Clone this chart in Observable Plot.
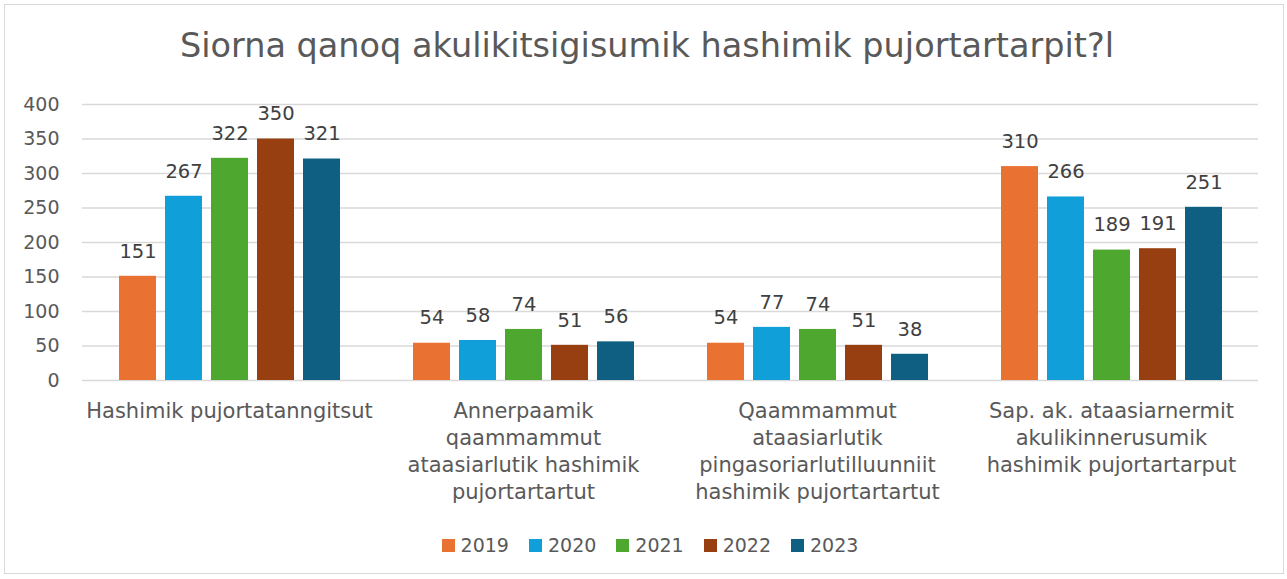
<!DOCTYPE html>
<html>
<head>
<meta charset="utf-8">
<script src="https://cdn.jsdelivr.net/npm/d3@7"></script>
<script src="https://cdn.jsdelivr.net/npm/@observablehq/plot@0.6"></script>
<style>
  html, body { margin: 0; padding: 0; background: #fff; }
  #chart { position: relative; width: 1287px; height: 579px; font-family: "DejaVu Sans", sans-serif; overflow: hidden; }
  #frame { position: absolute; left: 4px; top: 4px; width: 1280px; height: 570px; border: 1px solid #d9d9d9; box-sizing: border-box; }
  #title { position: absolute; left: 0; width: 1294px; top: 28px; text-align: center; font-size: 33.5px; line-height: 36px; color: #595959; white-space: nowrap; }
  #plot { position: absolute; left: 0; top: 90px; }
  #legend { position: absolute; left: 0; width: 1300px; top: 534px; display: flex; justify-content: center; align-items: center; font-size: 19px; color: #595959; }
  .item { display: flex; align-items: center; margin: 0 10px; }
  .sw { width: 13px; height: 13px; margin-right: 6px; }
</style>
</head>
<body>
<div id="chart">
  <div id="frame"></div>
  <div id="title"></div>
  <div id="plot"></div>
  <div id="legend"></div>
</div>
<script>
const titleText = "Siorna qanoq akulikitsigisumik hashimik pujortartarpit?l";
const categories = [
  "Hashimik pujortatanngitsut",
  "Annerpaamik\nqaammammut\nataasiarlutik hashimik\npujortartartut",
  "Qaammammut\nataasiarlutik\npingasoriarlutilluunniit\nhashimik pujortartartut",
  "Sap. ak. ataasiarnermit\nakulikinnerusumik\nhashimik pujortartarput"
];
const years = ["2019", "2020", "2021", "2022", "2023"];
const v2019 = [151, 54, 54, 310];
const v2020 = [267, 58, 77, 266];
const v2021 = [322, 74, 74, 189];
const v2022 = [350, 51, 51, 191];
const v2023 = [321, 56, 38, 251];
const colors = ["#E97132", "#119FD9", "#4EA72E", "#973F10", "#0E5F82"];
const yTicks = [0, 50, 100, 150, 200, 250, 300, 350, 400];

const series = [v2019, v2020, v2021, v2022, v2023];
const data = categories.flatMap((c, i) => years.map((y, j) => ({category: c, year: y, value: series[j][i]})));

document.getElementById("title").textContent = titleText;

const chart = Plot.plot({
  width: 1287,
  height: 430,
  marginLeft: 82,
  marginRight: 29,
  marginTop: 14,
  marginBottom: 140,
  style: {fontFamily: "'DejaVu Sans', sans-serif", background: "transparent"},
  fx: {domain: categories, padding: 0, label: null},
  x: {domain: years, paddingInner: 0.2, paddingOuter: 0.767, axis: null},
  y: {domain: [0, 400], label: null},
  color: {domain: years, range: colors},
  marks: [
    Plot.gridY(yTicks, {stroke: "#d9d9d9", strokeOpacity: 1, strokeWidth: 1.3}),
    Plot.barY(data, {fx: "category", x: "year", y: "value", fill: "year"}),
    Plot.text(data, {fx: "category", x: "year", y: "value", text: d => String(d.value), dy: -25, lineAnchor: "middle", fontSize: 19.5, fill: "#404040"}),
    Plot.axisY(yTicks, {tickSize: 0, tickPadding: 23, fontSize: 19, color: "#595959", label: null}),
    Plot.axisFx({anchor: "bottom", tickSize: 0, tickPadding: 18, fontSize: 21, lineHeight: 1.29, color: "#595959", label: null})
  ]
});
document.getElementById("plot").appendChild(chart);

const legend = document.getElementById("legend");
years.forEach((y, i) => {
  const it = document.createElement("div");
  it.className = "item";
  const sw = document.createElement("div");
  sw.className = "sw";
  sw.style.background = colors[i];
  const t = document.createElement("span");
  t.textContent = y;
  it.appendChild(sw);
  it.appendChild(t);
  legend.appendChild(it);
});
</script>
</body>
</html>
